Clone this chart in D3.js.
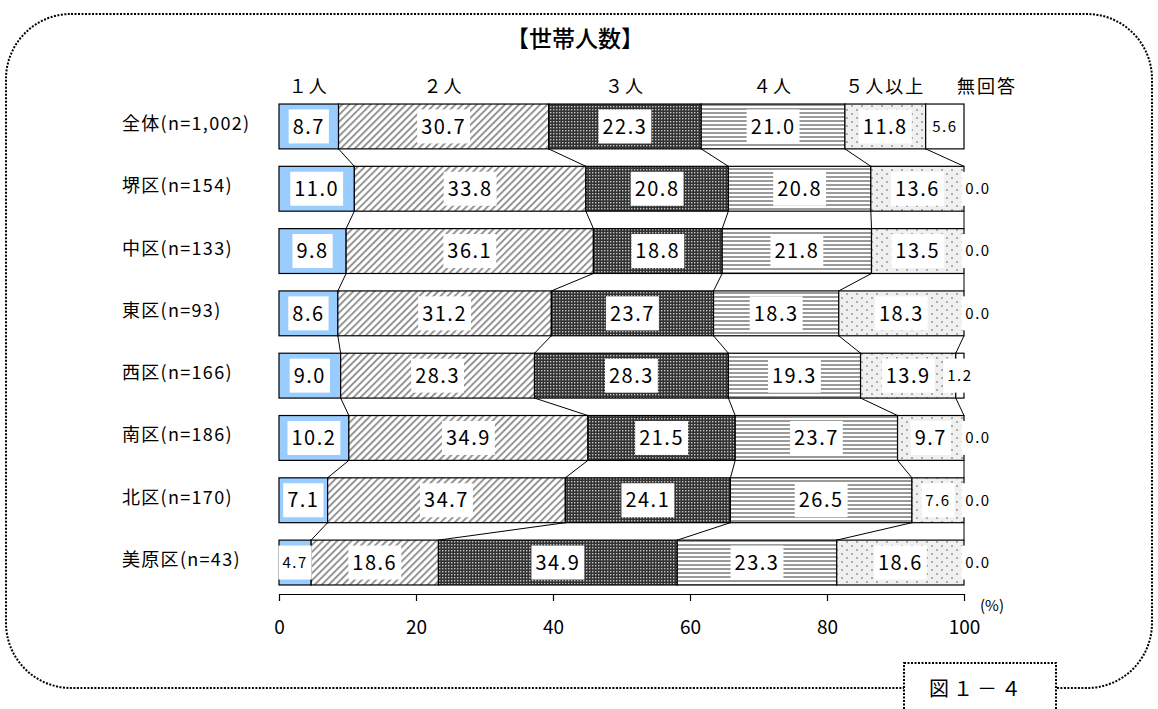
<!DOCTYPE html>
<html>
<head>
<meta charset="utf-8">
<script src="https://cdn.jsdelivr.net/npm/d3@7"></script>
<style>
  body { margin: 0; background: #fff; }
  text { font-family: "Noto Sans CJK JP", sans-serif; fill: #000; }
</style>
</head>
<body>
<div id="chart"></div>
<script>
// Set dimensions
const width = 1158;
const height = 709;

// Data
const rows = ["全体(n=1,002)", "堺区(n=154)", "中区(n=133)", "東区(n=93)",
  "西区(n=166)", "南区(n=186)", "北区(n=170)", "美原区(n=43)"];
const seriesNames = ["１人", "２人", "３人", "４人", "５人以上", "無回答"];
const one   = [8.7, 11.0, 9.8, 8.6, 9.0, 10.2, 7.1, 4.7];
const two   = [30.7, 33.8, 36.1, 31.2, 28.3, 34.9, 34.7, 18.6];
const three = [22.3, 20.8, 18.8, 23.7, 28.3, 21.5, 24.1, 34.9];
const four  = [21.0, 20.8, 21.8, 18.3, 19.3, 23.7, 26.5, 23.3];
const five  = [11.8, 13.6, 13.5, 18.3, 13.9, 9.7, 7.6, 18.6];
const noAns = [5.6, 0.0, 0.0, 0.0, 1.2, 0.0, 0.0, 0.0];
const tickValues = [0, 20, 40, 60, 80, 100];
// labels drawn in the smaller type
const smallLabels = ["全体(n=1,002)|無回答", "西区(n=166)|無回答", "北区(n=170)|５人以上", "美原区(n=43)|１人"];

const seriesValues = [one, two, three, four, five, noAns];
const table = rows.map((r, i) => {
  const o = { row: r };
  seriesNames.forEach((s, j) => { o[s] = seriesValues[j][i]; });
  return o;
});

const svg = d3.select("#chart")
  .append("svg")
  .attr("width", width)
  .attr("height", height);

// Patterns
const defs = svg.append("defs");
const p2 = defs.append("pattern").attr("id", "p2").attr("patternUnits", "userSpaceOnUse")
  .attr("width", 5).attr("height", 5).attr("patternTransform", "rotate(45)");
p2.append("rect").attr("width", 5).attr("height", 5).attr("fill", "#fff");
p2.append("rect").attr("width", 1.8).attr("height", 5).attr("fill", "#8c8c8c");

const p3 = defs.append("pattern").attr("id", "p3").attr("patternUnits", "userSpaceOnUse")
  .attr("width", 3).attr("height", 3);
p3.append("rect").attr("width", 3).attr("height", 3).attr("fill", "#333");
p3.append("rect").attr("x", 1).attr("y", 1).attr("width", 1.4).attr("height", 1.4).attr("fill", "#c4c4c4");

const p4 = defs.append("pattern").attr("id", "p4").attr("patternUnits", "userSpaceOnUse")
  .attr("width", 4).attr("height", 4);
p4.append("rect").attr("width", 4).attr("height", 4).attr("fill", "#fff");
p4.append("rect").attr("width", 4).attr("height", 2).attr("fill", "#9a9a9a");

const p5 = defs.append("pattern").attr("id", "p5").attr("patternUnits", "userSpaceOnUse")
  .attr("width", 10).attr("height", 8);
p5.append("rect").attr("width", 10).attr("height", 8).attr("fill", "#f0f0f0");
p5.append("circle").attr("cx", 2).attr("cy", 2).attr("r", 0.8).attr("fill", "#555");
p5.append("circle").attr("cx", 7).attr("cy", 6).attr("r", 0.8).attr("fill", "#555");

const fills = ["#99ccff", "url(#p2)", "url(#p3)", "url(#p4)", "url(#p5)", "#fff"];

// Outer rounded dotted frame
svg.append("rect")
  .attr("x", 6).attr("y", 14)
  .attr("width", 1146).attr("height", 674)
  .attr("rx", 65).attr("ry", 65)
  .attr("fill", "none")
  .attr("stroke", "#000")
  .attr("stroke-width", 2)
  .attr("stroke-dasharray", "2,1.5");

// Scales
const x = d3.scaleLinear().domain([0, 1]).range([279, 964]);
const y = d3.scaleBand().domain(rows).range([95.3, 593.7])
  .paddingInner(0.28).paddingOuter(0.14);

const stacked = d3.stack().keys(seriesNames).offset(d3.stackOffsetExpand)(table);

// Title
svg.append("text")
  .attr("x", 575).attr("y", 39)
  .attr("dy", "0.36em")
  .attr("text-anchor", "middle")
  .style("font-size", "23px")
  .style("font-weight", "500")
  .text("【世帯人数】");

// Series lines between bars
const bounds = stacked.slice(0, 5);
bounds.forEach(s => {
  for (let i = 0; i < rows.length - 1; i++) {
    svg.append("line")
      .attr("x1", x(s[i][1])).attr("y1", y(rows[i]) + y.bandwidth())
      .attr("x2", x(s[i + 1][1])).attr("y2", y(rows[i + 1]))
      .attr("stroke", "#000").attr("stroke-width", 1);
  }
});

// Bars
const layer = svg.selectAll("g.layer")
  .data(stacked)
  .enter()
  .append("g")
  .attr("class", "layer");

layer.selectAll("rect")
  .data((s, j) => s.map(d => ({ d, j })))
  .enter()
  .append("rect")
  .attr("x", o => x(o.d[0]))
  .attr("y", o => y(o.d.data.row))
  .attr("width", o => x(o.d[1]) - x(o.d[0]))
  .attr("height", y.bandwidth())
  .attr("fill", o => fills[o.j])
  .attr("stroke", "#000")
  .attr("stroke-width", 1.2);

// Data labels
const labels = [];
stacked.forEach((s, j) => {
  s.forEach((d, i) => {
    const v = seriesValues[j][i];
    const key = rows[i] + "|" + seriesNames[j];
    const small = v === 0 || smallLabels.includes(key);
    let cx = (x(d[0]) + x(d[1])) / 2;
    if (v === 0) cx = x(1) + 14;
    labels.push({ v, small, cx, cy: y(rows[i]) + y.bandwidth() / 2 });
  });
});

const lab = svg.selectAll("g.lab")
  .data(labels)
  .enter()
  .append("g")
  .attr("class", "lab");

lab.append("text")
  .attr("x", d => d.cx)
  .attr("y", d => d.cy)
  .attr("dy", "0.36em")
  .attr("text-anchor", "middle")
  .style("font-size", d => d.small ? "15px" : "20px")
  .style("letter-spacing", d => d.small ? "1.5px" : "1.5px")
  .text(d => d.v.toFixed(1));

lab.each(function(d) {
  const g = d3.select(this);
  const bb = g.select("text").node().getBBox();
  g.insert("rect", "text")
    .attr("x", bb.x - 4)
    .attr("y", d.cy - 17)
    .attr("width", bb.width + 8)
    .attr("height", 34)
    .attr("fill", "#fff");
});

// Column headers
const first = stacked.map(s => s[0]);
svg.selectAll("text.head")
  .data(seriesNames)
  .enter()
  .append("text")
  .attr("class", "head")
  .attr("x", (s, j) => j < 5 ? (x(first[j][0]) + x(first[j][1])) / 2 : x(1) + 23)
  .attr("y", 87)
  .attr("dy", "0.36em")
  .attr("text-anchor", "middle")
  .style("font-size", "18px")
  .style("letter-spacing", "2px")
  .text(s => s);

// Row labels
svg.selectAll("text.rowlab")
  .data(rows)
  .enter()
  .append("text")
  .attr("class", "rowlab")
  .attr("x", 122)
  .attr("y", r => y(r) + y.bandwidth() / 2 - 3)
  .attr("dy", "0.36em")
  .style("font-size", "18px")
  .style("letter-spacing", "1.3px")
  .text(r => r);

// Axis
const axis = svg.append("g")
  .attr("transform", "translate(0,594)")
  .call(d3.axisBottom(x)
    .tickValues(tickValues.map(t => t / 100))
    .tickFormat(t => Math.round(t * 100))
    .tickSize(7)
    .tickSizeOuter(0)
    .tickPadding(20));
axis.select(".domain").attr("stroke", "#000").attr("stroke-width", 1.2);
axis.selectAll(".tick line").attr("stroke", "#000").attr("stroke-width", 1.2);
axis.selectAll(".tick text")
  .style("font-family", "'Noto Sans CJK JP', sans-serif")
  .style("font-size", "19px");

svg.append("text")
  .attr("x", 992).attr("y", 611)
  .attr("text-anchor", "middle")
  .style("font-size", "15px")
  .text("(%)");

// Figure number box
svg.append("rect")
  .attr("x", 904).attr("y", 663)
  .attr("width", 152).attr("height", 60)
  .attr("fill", "#fff")
  .attr("stroke", "#000")
  .attr("stroke-width", 2)
  .attr("stroke-dasharray", "2,1.5");
svg.append("text")
  .attr("x", 977).attr("y", 689)
  .attr("dy", "0.36em")
  .attr("text-anchor", "middle")
  .style("font-size", "20px")
  .style("letter-spacing", "4px")
  .text("図１－４");
</script>
</body>
</html>
